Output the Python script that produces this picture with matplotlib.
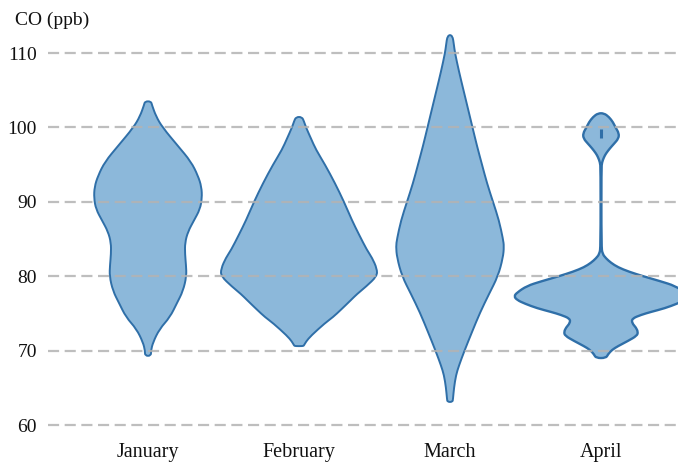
import numpy as np
import matplotlib
matplotlib.use("Agg")
import matplotlib.pyplot as plt
from matplotlib.path import Path
from matplotlib.patches import PathPatch

months = ["January", "February", "March", "April"]

# violin outlines: CO level (ppb) and half width (px)
jan_co = [103.5, 103.0, 101.5, 100.0, 97.5, 95.4, 93.5, 92.0, 90.5, 89.0, 87.5, 86.0,
          84.5, 83.0, 81.5, 80.0, 78.0, 76.4, 74.5, 72.9, 71.1, 70.0, 69.3]
jan_w = [3, 4, 8, 14.5, 30, 43, 50, 53.5, 54, 52, 46, 40,
         37, 37, 38, 38.5, 35, 29, 22, 11.5, 5, 3, 3]

feb_co = [101.4, 100.8, 100.0, 98.5, 97.0, 95.0, 92.5, 90.0, 87.5, 85.6, 83.5, 82.5,
          81.0, 80.0, 78.6, 77.6, 76.8, 75.5, 74.5, 73.7, 72.0, 71.2, 70.7, 70.6]
feb_w = [3, 5, 7, 12, 17, 26, 36, 45, 53, 60, 68, 73,
         78, 78, 67, 58, 52, 42, 34, 26, 12, 7, 5, 4]

mar_co = [112.4, 111.0, 110.0, 107.5, 105.0, 102.5, 100.0, 97.5, 95.0, 92.5, 90.0, 87.5,
          85.0, 84.0, 82.5, 80.0, 77.6, 75.1, 72.5, 70.0, 68.0, 66.7, 65.0, 63.5, 63.1]
mar_w = [2.5, 4, 5, 9, 13.5, 18, 22.5, 27, 32, 37, 43, 49,
         53, 54, 53, 48, 39, 30, 22, 14.5, 9, 6, 4, 3, 2.5]

apr_co = [101.9, 101.4, 100.7, 100.0, 99.2, 98.5, 97.8, 97.2, 96.5, 96.0, 95.3, 94.5,
          84.0, 83.0, 82.4, 81.8, 81.2, 80.6, 80.0, 79.3, 78.7, 77.8, 77.3, 76.8, 76.3,
          75.7, 75.2, 74.8, 74.3, 73.7, 73.1, 72.5, 72.0, 71.3, 70.6, 70.1, 69.5, 69.0]
apr_w = [3, 8, 12, 14.5, 18, 17.5, 13, 9, 5, 3, 1, 0.4,
         0.4, 1.5, 5, 10, 17, 28, 42, 60, 74, 84, 87, 84, 76,
         64, 50, 40, 31, 31, 35, 37, 36, 27, 17, 11, 7, 5]

yticks = [60, 70, 80, 90, 100, 110]

profiles = [(jan_co, jan_w), (feb_co, feb_w), (mar_co, mar_w), (apr_co, apr_w)]

plt.rcParams['font.family'] = ['Liberation Serif', 'DejaVu Serif']

fig = plt.figure(figsize=(6.78, 4.62), dpi=100)
ax = fig.add_axes([48 / 678, 22 / 462, 630 / 678, 415 / 462])

px = 151.0  # pixels between two months
fill_c = "#8cb8da"
edge_c = "#2f6fa8"


def smooth_path(xs, ys):
    # closed outline drawn with quadratic curves through the midpoints
    pts = np.column_stack([xs, ys])
    n = len(pts)
    mids = (pts + np.roll(pts, -1, axis=0)) / 2
    verts = [mids[-1]]
    codes = [Path.MOVETO]
    for k in range(n):
        verts += [pts[k], mids[k]]
        codes += [Path.CURVE3, Path.CURVE3]
    verts.append(mids[-1])
    codes.append(Path.CLOSEPOLY)
    return Path(verts, codes)


for i, (co, w) in enumerate(profiles):
    co = np.array(co)
    w = np.array(w) / px
    xs = np.concatenate([i - w, (i + w)[::-1]])
    ys = np.concatenate([co, co[::-1]])
    lw = 1.7 if i == 3 else 1.4
    ax.add_patch(PathPatch(smooth_path(xs, ys), facecolor=fill_c, edgecolor=edge_c,
                           lw=lw, zorder=2, joinstyle="round"))

# little dark mark inside the April top bulb
ax.plot([3, 3], [98.6, 99.8], color=edge_c, lw=2.2, zorder=4, solid_capstyle="butt")

for v in yticks:
    ax.axhline(v, color=(0.7, 0.7, 0.7), alpha=0.85, lw=1.6, dashes=(5, 2.5), zorder=3)

ax.set_xlim((48 - 148) / px, (678 - 148) / px)
ax.set_ylim(60 - 15 / 7.44, 110 + 28 / 7.44)

ax.set_yticks(yticks)
ax.set_yticklabels([str(v) for v in yticks], fontsize=14)
ax.set_xticks(range(len(months)))
ax.set_xticklabels(months, fontsize=14.5)
ax.tick_params(axis="both", length=0, colors="#111111")
ax.tick_params(axis="y", pad=8)
ax.tick_params(axis="x", pad=2.5)
for s in ax.spines.values():
    s.set_visible(False)

fig.text(15 / 678, 1 - 20 / 462, "CO (ppb)", fontsize=14, color="#111111",
         ha="left", va="center")

fig.savefig("out.png", dpi=100)
